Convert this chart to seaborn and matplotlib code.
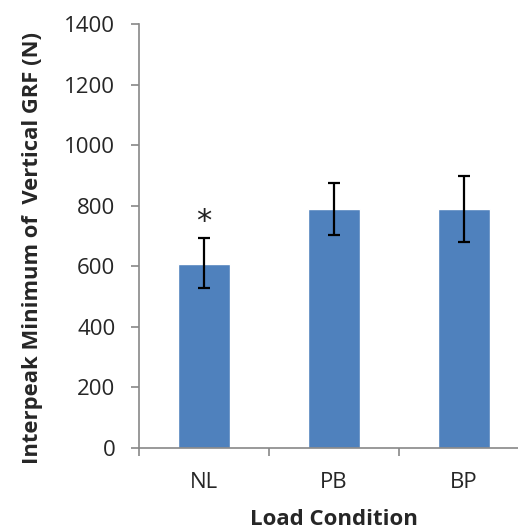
import matplotlib.pyplot as plt
import seaborn as sns
import pandas as pd
import numpy as np

# values
conditions = ["NL", "PB", "BP"]
means = [607, 790, 788]
err_low = [527, 704, 681]
err_high = [692, 876, 898]
yticks = [0, 200, 400, 600, 800, 1000, 1200, 1400]

sns.set_theme(style="white")
plt.rcParams["font.family"] = ["Open Sans", "DejaVu Sans"]

df = pd.DataFrame({"cond": conditions, "val": means})

fig = plt.figure(figsize=(5.18, 5.31), dpi=100)
# axes spans 139..529 px horizontally (clipped at right), 24..448 px vertically
ax = fig.add_axes([139 / 518, (531 - 448) / 531, 390 / 518, 424 / 531])

sns.barplot(data=df, x="cond", y="val", color="#4F81BD", width=0.4,
            saturation=1, ax=ax, errorbar=None)

pos = np.arange(len(conditions))
lo = np.array(means) - np.array(err_low)
hi = np.array(err_high) - np.array(means)
ax.errorbar(pos, means, yerr=[lo, hi], fmt="none", ecolor="black",
            elinewidth=1.6, capsize=4.5, capthick=1.6)

ax.text(0, 748, "*", ha="center", va="center", fontsize=22,
        family="DejaVu Sans", color="#222222")

ax.set_xlim(-0.5, 2.5)
ax.set_ylim(0, 1400)
ax.set_yticks(yticks)
ax.set_yticklabels([str(t) for t in yticks], fontsize=16)
ax.set_xticks(pos)
ax.set_xticklabels(conditions, fontsize=16)
ax.set_xticks([-0.5, 0.5, 1.5, 2.5], minor=True)
ax.tick_params(axis="x", which="major", length=0, pad=17)
ax.tick_params(axis="x", which="minor", length=6, width=1.2, color="#888888",
               direction="out", bottom=True)
ax.tick_params(axis="y", length=6, width=1.2, color="#888888",
               direction="out", left=True, pad=11)

for s in ["top", "right"]:
    ax.spines[s].set_visible(False)
for s in ["left", "bottom"]:
    ax.spines[s].set_color("#888888")
    ax.spines[s].set_linewidth(1.2)

ax.set_xlabel("Load Condition", fontsize=16, fontweight="bold", labelpad=11.5)
ax.set_ylabel("Interpeak Minimum of  Vertical GRF (N)", fontsize=15.8,
              fontweight="bold")
ax.yaxis.set_label_coords(-0.247, 0.472)

fig.savefig("out.png", dpi=100)
